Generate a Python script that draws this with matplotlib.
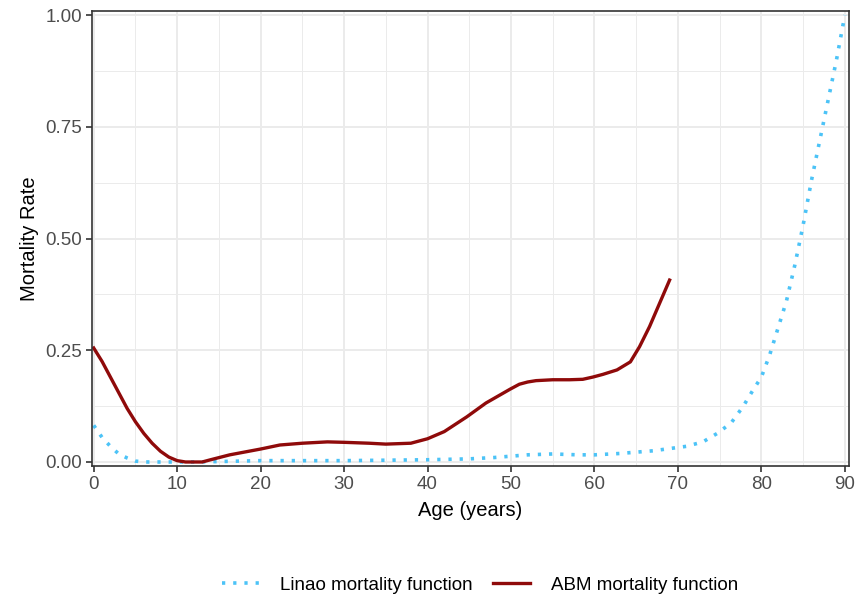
import matplotlib.pyplot as plt
from matplotlib.ticker import MultipleLocator

# values
linao_age = [0, 1, 2, 3, 4, 5, 6, 8, 10, 12, 15, 20, 25, 30, 35, 40, 45, 48, 50, 52,
             55, 58, 60, 63, 65, 67, 69, 71, 73, 74.8, 76.4, 77.8, 79, 80, 81, 82, 83,
             84, 85, 86, 87, 88, 89, 90]
linao_rate = [0.082, 0.055, 0.035, 0.018, 0.009, 0.002, 0.0, 0.0, 0.0, 0.0, 0.001,
              0.003, 0.003, 0.003, 0.004, 0.005, 0.007, 0.010, 0.013, 0.016,
              0.018, 0.016, 0.016, 0.019, 0.022, 0.025, 0.030, 0.035, 0.045, 0.065,
              0.088, 0.124, 0.161, 0.19, 0.24, 0.30, 0.36, 0.44, 0.53, 0.63, 0.72,
              0.81, 0.90, 1.0]

abm_age = [0, 1, 2, 3, 4, 5, 6, 7, 8, 9, 10, 11, 12, 13, 14, 16.3, 20, 22.3, 25, 28,
           30, 33, 35, 38, 40, 42, 44.7, 47, 49.9, 51, 52, 53, 55, 57, 58.6, 59.8,
           61, 62.7, 64.3, 65.4, 66.6, 67.8, 69]
abm_rate = [0.255, 0.225, 0.19, 0.155, 0.12, 0.09, 0.064, 0.042, 0.024, 0.011,
            0.003, 0.0, 0.0, 0.0, 0.005, 0.016, 0.029, 0.038, 0.042, 0.045,
            0.044, 0.042, 0.040, 0.042, 0.052, 0.068, 0.101, 0.132, 0.163, 0.174,
            0.179, 0.182, 0.184, 0.184, 0.185, 0.190, 0.196, 0.206, 0.224, 0.258,
            0.303, 0.355, 0.407]

plt.rcParams['font.family'] = ['Liberation Sans', 'DejaVu Sans']

fig = plt.figure(figsize=(8.57, 5.96), dpi=100)
ax = fig.add_axes([0.1074, 0.2181, 0.8833, 0.7634])

ax.plot(linao_age, linao_rate, color='#4cc3f7', linestyle=(0, (0.9, 2.2)),
        linewidth=2.6, label='Linao mortality function')
ax.plot(abm_age, abm_rate, color='#8f0a0a', linewidth=2.4,
        label='ABM mortality function')

ax.set_xlim(-0.2, 90.5)
ax.set_ylim(-0.009, 1.009)
ax.xaxis.set_major_locator(MultipleLocator(10))
ax.xaxis.set_minor_locator(MultipleLocator(5))
ax.yaxis.set_major_locator(MultipleLocator(0.25))
ax.yaxis.set_minor_locator(MultipleLocator(0.125))
ax.yaxis.set_major_formatter(lambda v, p: f'{v:.2f}')

ax.grid(which='major', color='#ebebeb', linewidth=1.4)
ax.grid(which='minor', color='#ebebeb', linewidth=0.7)
ax.set_axisbelow(True)
for s in ax.spines.values():
    s.set_color('#333333')
    s.set_linewidth(1.2)
ax.tick_params(which='major', length=4, width=1.2, color='#333333',
               labelcolor='#4d4d4d', labelsize=13.5, pad=3)
ax.tick_params(which='minor', length=0)

ax.set_xlabel('Age (years)', fontsize=14.5, color='black', labelpad=6)
ax.set_ylabel('Mortality Rate', fontsize=14.5, color='black', labelpad=5)

fig.legend(loc='center', bbox_to_anchor=(0.56, 0.018), ncol=2, frameon=False,
           fontsize=13.5, handlelength=2.0, columnspacing=1.1, handletextpad=1.1)

fig.savefig('out.png', dpi=100)
